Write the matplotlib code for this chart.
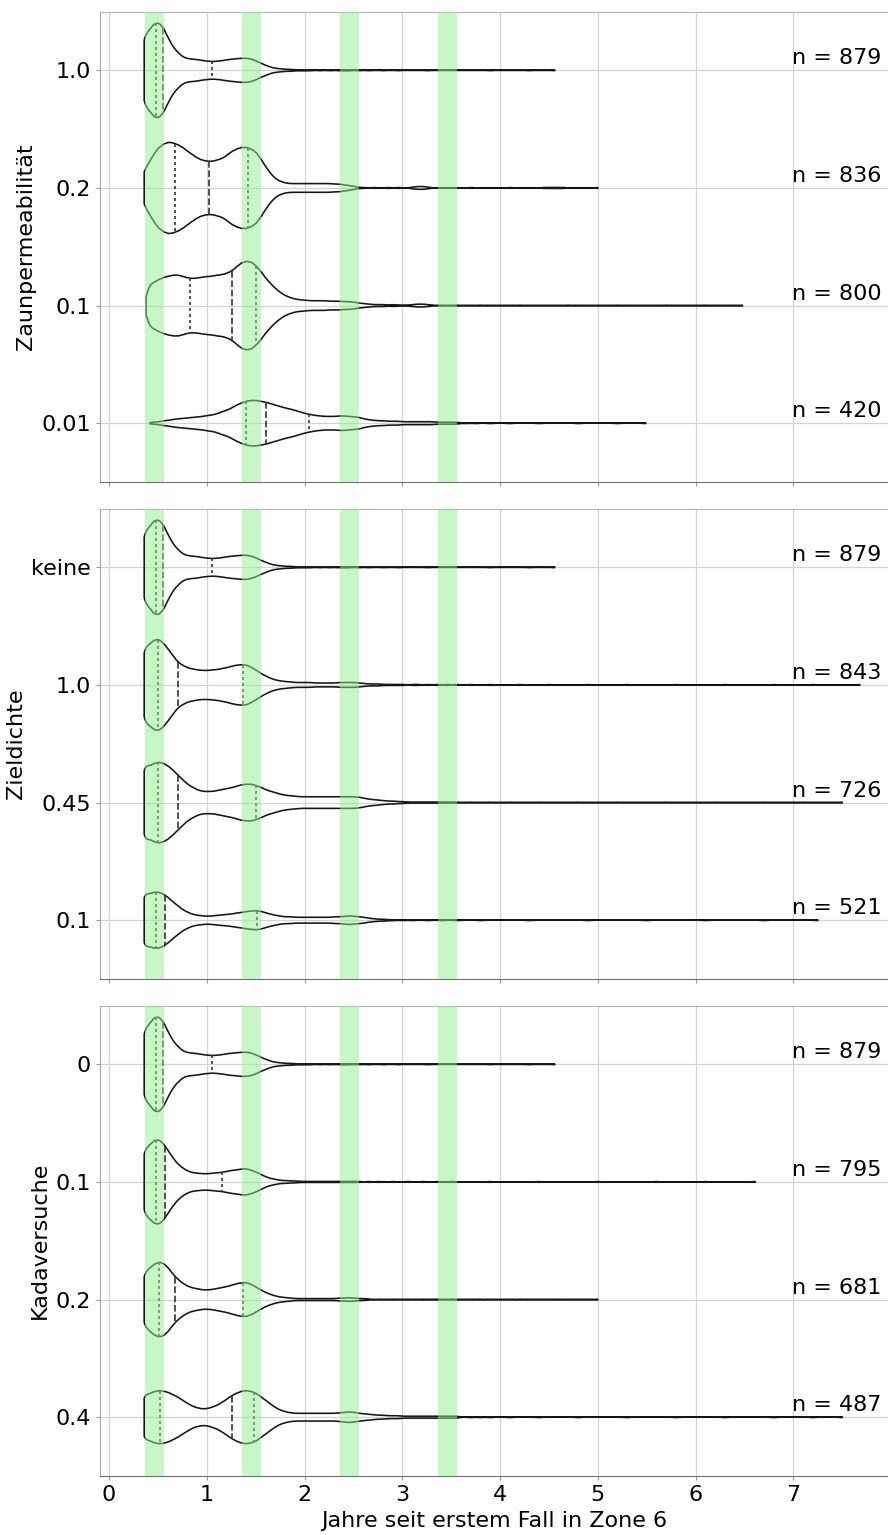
import numpy as np
import matplotlib
matplotlib.use("Agg")
import matplotlib.pyplot as plt
from matplotlib.mlab import GaussianKDE
from matplotlib.transforms import blended_transform_factory

# ---------------------------------------------------------------- data
# bin centres (years since first case in zone 6) of the frequency tables
bin_years = [0.36, 0.41, 0.46, 0.51, 0.56, 0.61, 0.66, 0.71, 0.76, 0.81, 0.86, 0.91, 0.96,
             1.01, 1.06, 1.11, 1.16, 1.21, 1.26, 1.31, 1.36, 1.41, 1.46, 1.51, 1.56, 1.61,
             1.66, 1.71, 1.76, 1.81, 1.86, 1.91, 1.96, 2.01, 2.06, 2.11, 2.16, 2.21, 2.26,
             2.31, 2.36, 2.41, 2.46, 2.51, 2.56, 2.61, 2.66, 2.71, 2.76, 2.81, 2.86, 2.91,
             2.96, 3.01, 3.06, 3.11, 3.16, 3.21, 3.26, 3.31, 3.36, 3.41, 3.46, 3.51, 3.56]

# baseline (Zaunpermeabilität 1.0 / Zieldichte keine / Kadaversuche 0)
counts_base = [73, 82, 97, 99, 87, 65, 47, 36, 27, 24, 23, 22, 20,
               19, 18, 19, 20, 22, 23, 24, 25, 25, 23, 19, 14, 10,
               6, 4, 3, 2, 2, 1, 1, 1, 1, 0, 1, 0, 1,
               0, 1, 1, 1, 0, 1, 0, 1, 0, 0, 1, 0, 0,
               1, 0, 0, 0, 0, 0, 1, 0, 0, 0, 0, 0, 0]
extra_base = [3.9, 4.3, 4.56]
quart_base = [0.48, 0.556, 1.05]

# Zaunpermeabilität 0.2
counts_zaun_02 = [36, 53, 70, 84, 91, 95, 93, 89, 83, 75, 68, 61, 57,
                  55, 55, 58, 61, 68, 76, 81, 84, 84, 80, 73, 58, 42,
                  28, 18, 13, 10, 9, 9, 9, 9, 9, 9, 9, 9, 9,
                  8, 8, 6, 5, 3, 1, 1, 0, 1, 0, 0, 1, 0,
                  1, 0, 0, 2, 3, 3, 2, 0, 0, 0, 0, 0, 0]
extra_zaun_02 = [3.7, 4.1, 4.45, 4.5, 4.55, 4.6, 4.65, 5.0]
quart_zaun_02 = [0.68, 1.02, 1.42]

# Zaunpermeabilität 0.1
counts_zaun_01 = [0, 43, 48, 54, 58, 61, 63, 63, 60, 57, 56, 57, 59,
                  60, 61, 63, 64, 67, 72, 81, 89, 92, 90, 81, 69, 55,
                  44, 34, 26, 20, 16, 13, 12, 11, 10, 10, 10, 10, 9,
                  9, 9, 8, 8, 7, 5, 4, 3, 2, 2, 2, 1, 2,
                  1, 1, 1, 2, 3, 3, 2, 1, 0, 1, 0, 0, 1]
extra_zaun_01 = [0.38, 3.8, 4.2, 4.7, 5.2, 5.7, 6.1, 6.48]
quart_zaun_01 = [0.83, 1.255, 1.50]

# Zaunpermeabilität 0.01
counts_zaun_001 = [0, 0, 2, 3, 5, 6, 8, 9, 10, 11, 12, 13, 14,
                   16, 17, 20, 24, 27, 32, 38, 42, 46, 47, 47, 45, 43,
                   40, 37, 34, 31, 29, 26, 23, 20, 18, 16, 15, 14, 14,
                   14, 15, 15, 14, 13, 12, 9, 7, 6, 5, 5, 4, 4,
                   4, 3, 3, 3, 3, 3, 3, 3, 2, 2, 2, 2, 2]
extra_zaun_001 = [0.42, 3.65, 3.75, 3.9, 4.1, 4.4, 4.8, 5.2, 5.49]
quart_zaun_001 = [1.40, 1.61, 2.05]

# Zieldichte 1.0
counts_ziel_10 = [78, 83, 93, 95, 86, 73, 59, 46, 40, 35, 33, 31, 30,
                  30, 31, 32, 34, 36, 39, 41, 42, 41, 36, 30, 23, 18,
                  13, 10, 8, 7, 6, 5, 5, 5, 5, 4, 4, 4, 4,
                  4, 5, 5, 5, 5, 4, 3, 2, 2, 2, 1, 1, 1,
                  1, 1, 0, 1, 1, 0, 1, 0, 1, 0, 1, 0, 1]
extra_ziel_10 = [3.7, 3.9, 4.2, 4.5, 4.9, 5.3, 5.8, 6.3, 6.8, 7.2, 7.68]
quart_ziel_10 = [0.50, 0.71, 1.37]

# Zieldichte 0.45
counts_ziel_045 = [79, 75, 81, 84, 81, 75, 66, 56, 46, 37, 31, 26, 23,
                   23, 23, 25, 27, 29, 31, 34, 37, 38, 38, 35, 31, 26,
                   23, 20, 17, 15, 14, 13, 12, 12, 12, 12, 12, 12, 12,
                   12, 12, 12, 12, 12, 11, 9, 7, 6, 5, 4, 3, 3,
                   2, 2, 1, 1, 1, 1, 1, 1, 1, 1, 1, 1, 1]
extra_ziel_045 = [3.7, 3.9, 4.1, 4.4, 4.8, 5.2, 5.7, 6.2, 6.7, 7.1, 7.5]
quart_ziel_045 = [0.50, 0.71, 1.50]

# Zieldichte 0.1
counts_ziel_01 = [56, 54, 58, 58, 54, 46, 37, 29, 21, 16, 12, 10, 9,
                  8, 9, 10, 11, 12, 13, 15, 16, 18, 19, 20, 18, 15,
                  12, 10, 8, 7, 7, 6, 6, 6, 6, 6, 6, 6, 6,
                  7, 7, 8, 9, 8, 7, 6, 4, 3, 2, 2, 1, 1,
                  0, 1, 0, 1, 0, 0, 1, 0, 0, 1, 0, 0, 1]
extra_ziel_01 = [3.8, 4.3, 4.9, 5.5, 6.1, 6.7, 7.25]
quart_ziel_01 = [0.48, 0.57, 1.51]

# Kadaversuche 0.1
counts_kad_01 = [67, 75, 86, 88, 79, 63, 48, 36, 28, 22, 19, 18, 17,
                 17, 18, 19, 20, 22, 24, 25, 27, 27, 24, 20, 15, 10,
                 7, 5, 3, 3, 2, 2, 1, 1, 1, 1, 1, 1, 1,
                 1, 1, 1, 1, 1, 1, 0, 1, 0, 1, 0, 0, 1,
                 0, 0, 1, 0, 0, 1, 0, 0, 1, 0, 0, 1, 0]
extra_kad_01 = [3.9, 4.4, 5.0, 5.6, 6.1, 6.61]
quart_kad_01 = [0.48, 0.57, 1.16]

# Kadaversuche 0.2
counts_kad_02 = [55, 64, 73, 78, 75, 65, 51, 41, 33, 27, 24, 22, 20,
                 20, 21, 23, 25, 27, 30, 33, 35, 35, 31, 25, 19, 14,
                 10, 7, 5, 4, 3, 2, 2, 2, 2, 2, 2, 2, 2,
                 2, 3, 3, 4, 3, 2, 2, 1, 0, 1, 0, 0, 1,
                 0, 0, 1, 0, 0, 1, 0, 0, 1, 0, 0, 1, 0]
extra_kad_02 = [3.8, 4.2, 4.6, 5.0]
quart_kad_02 = [0.51, 0.68, 1.37]

# Kadaversuche 0.4
counts_kad_04 = [47, 48, 53, 55, 54, 51, 46, 41, 34, 28, 22, 19, 17,
                 18, 21, 25, 31, 38, 45, 50, 54, 55, 53, 49, 41, 34,
                 26, 19, 14, 11, 9, 8, 8, 8, 8, 8, 8, 8, 8,
                 8, 9, 10, 11, 10, 8, 7, 6, 5, 4, 4, 3, 3,
                 3, 2, 2, 2, 2, 2, 2, 2, 2, 2, 2, 2, 2]
extra_kad_04 = [3.7, 3.8, 3.9, 4.1, 4.4, 4.8, 5.3, 5.8, 6.3, 6.8, 7.2, 7.5]
quart_kad_04 = [0.52, 1.26, 1.48]

zaun_cats = ["1.0", "0.2", "0.1", "0.01"]
zaun_n = [879, 836, 800, 420]
ziel_cats = ["keine", "1.0", "0.45", "0.1"]
ziel_n = [879, 843, 726, 521]
kad_cats = ["0", "0.1", "0.2", "0.4"]
kad_n = [879, 795, 681, 487]

season_start = [0.365, 1.365, 2.365, 3.365]
season_end = [0.558, 1.558, 2.558, 3.558]
x_ticks = [0, 1, 2, 3, 4, 5, 6, 7]

panels = [
    ("Zaunpermeabilität", zaun_cats, zaun_n,
     [(counts_base, extra_base, quart_base),
      (counts_zaun_02, extra_zaun_02, quart_zaun_02),
      (counts_zaun_01, extra_zaun_01, quart_zaun_01),
      (counts_zaun_001, extra_zaun_001, quart_zaun_001)]),
    ("Zieldichte", ziel_cats, ziel_n,
     [(counts_base, extra_base, quart_base),
      (counts_ziel_10, extra_ziel_10, quart_ziel_10),
      (counts_ziel_045, extra_ziel_045, quart_ziel_045),
      (counts_ziel_01, extra_ziel_01, quart_ziel_01)]),
    ("Kadaversuche", kad_cats, kad_n,
     [(counts_base, extra_base, quart_base),
      (counts_kad_01, extra_kad_01, quart_kad_01),
      (counts_kad_02, extra_kad_02, quart_kad_02),
      (counts_kad_04, extra_kad_04, quart_kad_04)]),
]

# ---------------------------------------------------------------- style
BW = 0.03            # kernel bandwidth in years
HALF_WIDTH = 0.4     # max half width of a violin (category units)
FS = 16
OUTLINE = "#151515"
INNER = "#333333"


def profile(counts, extra):
    data = np.concatenate([np.repeat(np.asarray(bin_years, float), counts),
                           np.asarray(extra, float)])
    kde = GaussianKDE(data, bw_method=lambda k: BW / np.std(k.dataset, ddof=1))
    xs = np.linspace(data.min(), data.max(), 4000)
    g = kde.evaluate(xs) * data.size
    return xs, g


fig = plt.figure(figsize=(8.88, 15.35), dpi=100)
left, width = 100 / 888, 788 / 888
height = 470.5 / 1535
bottoms = [1 - 482 / 1535, 1 - 979 / 1535, 1 - 1476 / 1535]

cache = {}
for pi, (ylabel, cats, ns, violins) in enumerate(panels):
    ax = fig.add_axes([left, bottoms[pi], width, height])
    profs = []
    for counts, extra, quart in violins:
        key = id(counts)
        if key not in cache:
            cache[key] = profile(counts, extra)
        profs.append(cache[key])
    gmax = max(g.max() for _, g in profs)

    for pos, ((xs, g), (counts, extra, quart)) in enumerate(zip(profs, violins)):
        hw = HALF_WIDTH * g / gmax
        ax.fill_between(xs, pos - hw, pos + hw, facecolor="none",
                        edgecolor=OUTLINE, linewidth=1.15, zorder=2)
        for qi, q in enumerate(quart):
            h = np.interp(q, xs, hw)
            dashes = (4.0, 1.6) if qi == 1 else (1.8, 1.8)
            ax.plot([q, q], [pos - h, pos + h], color=INNER, linewidth=1.2,
                    dashes=dashes, zorder=2.5)

    for s, e in zip(season_start, season_end):
        ax.axvspan(s, e, color="#90ee90", alpha=0.5, linewidth=0, zorder=3)

    trans = blended_transform_factory(ax.transAxes, ax.transData)
    for pos, n in enumerate(ns):
        ax.text(0.992, pos - 0.05, f"n = {n}", transform=trans, ha="right",
                va="baseline", fontsize=FS, zorder=4)

    ax.set_xlim(-0.092, 7.968)
    ax.set_ylim(3.5, -0.5)
    ax.set_yticks(range(len(cats)))
    ax.set_yticklabels(cats)
    ax.set_xticks(x_ticks)
    ax.set_axisbelow(True)
    ax.grid(True, color="#d3d3d3", linewidth=0.9)
    ax.tick_params(labelsize=FS, length=3, color="#999999")
    ax.set_ylabel(ylabel, fontsize=FS)
    ax.spines["right"].set_visible(False)
    ax.spines["top"].set_color("#b5b5b5")
    ax.spines["left"].set_color("#a8a8a8")
    ax.spines["bottom"].set_color("#707070")
    if pi < 2:
        ax.tick_params(labelbottom=False)
    else:
        ax.set_xlabel("Jahre seit erstem Fall in Zone 6", fontsize=FS)

fig.savefig("out.png", dpi=100)
